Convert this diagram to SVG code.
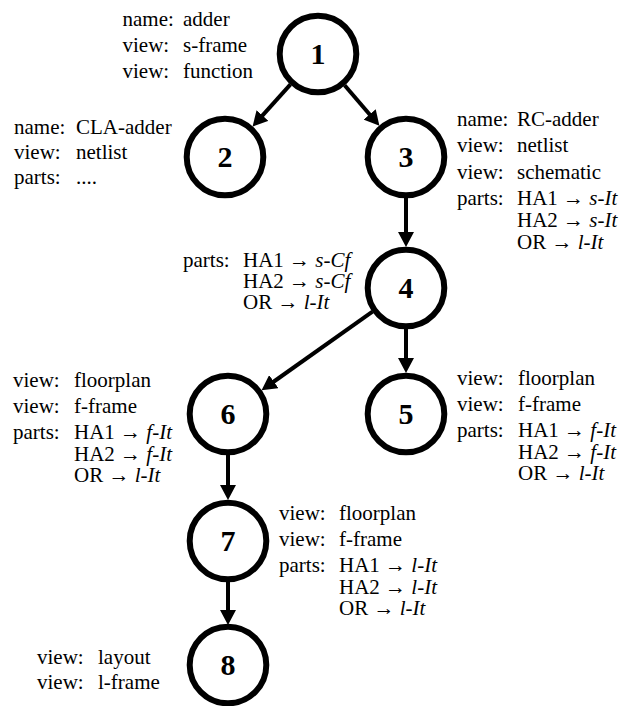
<svg xmlns="http://www.w3.org/2000/svg" width="628" height="706" viewBox="0 0 628 706">
<style>
.t { font-family: "Liberation Serif", "Times New Roman", serif; font-size: 21px; fill: #000; }
.i { font-style: italic; }
.n { font-family: "Liberation Serif", "Times New Roman", serif; font-size: 30px; font-weight: bold; text-anchor: middle; fill: #000; }
.c { fill: #fff; stroke: #000; stroke-width: 6; }
.e { stroke: #000; stroke-width: 4; fill: none; marker-end: url(#ah); }
</style>
<defs>
<marker id="ah" markerUnits="userSpaceOnUse" viewBox="0 0 16 16" markerWidth="16" markerHeight="16" refX="5" refY="8" orient="auto">
<path d="M0,0 L15,8 L0,16 z" fill="#000"/>
</marker>
</defs>
<g id="connectors">
<line class="e" x1="290.5" y1="84.4" x2="259.2" y2="119.2"/>
<line class="e" x1="344.6" y1="85.2" x2="372.9" y2="118.2"/>
<line class="e" x1="406" y1="198" x2="406" y2="237"/>
<line class="e" x1="372.5" y1="311.7" x2="269.7" y2="384.5"/>
<line class="e" x1="406" y1="329" x2="406" y2="363"/>
<line class="e" x1="228" y1="455" x2="228" y2="490"/>
<line class="e" x1="228" y1="582" x2="228" y2="615"/>
</g>
<g id="node1">
<circle class="c" cx="318" cy="54" r="38.3"/>
<text class="n" x="318" y="64">1</text>
<text class="t" x="122.5" y="26">name:</text><text class="t" x="183" y="26">adder</text>
<text class="t" x="122.5" y="52">view:</text><text class="t" x="183" y="52">s-frame</text>
<text class="t" x="122.5" y="78">view:</text><text class="t" x="183" y="78">function</text>
</g>
<g id="node2">
<circle class="c" cx="225" cy="157" r="38.3"/>
<text class="n" x="225" y="167">2</text>
<text class="t" x="14" y="134">name:</text><text class="t" x="76" y="134">CLA-adder</text>
<text class="t" x="14" y="159">view:</text><text class="t" x="76" y="159">netlist</text>
<text class="t" x="14" y="184">parts:</text><text class="t" x="76" y="184">....</text>
</g>
<g id="node3">
<circle class="c" cx="406" cy="157" r="38.3"/>
<text class="n" x="406" y="167">3</text>
<text class="t" x="457" y="125.5">name:</text><text class="t" x="517" y="125.5">RC-adder</text>
<text class="t" x="457" y="152">view:</text><text class="t" x="517" y="152">netlist</text>
<text class="t" x="457" y="178.5">view:</text><text class="t" x="517" y="178.5">schematic</text>
<text class="t" x="457" y="205">parts:</text><text class="t" x="517" y="205">HA1 → <tspan class="i">s-It</tspan></text>
<text class="t" x="517" y="227">HA2 → <tspan class="i">s-It</tspan></text>
<text class="t" x="517" y="249">OR → <tspan class="i">l-It</tspan></text>
</g>
<g id="node4">
<circle class="c" cx="406" cy="288" r="38.3"/>
<text class="n" x="406" y="298">4</text>
<text class="t" x="183" y="267">parts:</text><text class="t" x="243" y="267">HA1 → <tspan class="i">s-Cf</tspan></text>
<text class="t" x="243" y="288">HA2 → <tspan class="i">s-Cf</tspan></text>
<text class="t" x="243" y="309">OR → <tspan class="i">l-It</tspan></text>
</g>
<g id="node6">
<circle class="c" cx="228" cy="414" r="38.3"/>
<text class="n" x="228" y="424">6</text>
<text class="t" x="13" y="387">view:</text><text class="t" x="74" y="387">floorplan</text>
<text class="t" x="13" y="413">view:</text><text class="t" x="74" y="413">f-frame</text>
<text class="t" x="13" y="439">parts:</text><text class="t" x="74" y="439">HA1 → <tspan class="i">f-It</tspan></text>
<text class="t" x="74" y="460.5">HA2 → <tspan class="i">f-It</tspan></text>
<text class="t" x="74" y="482">OR → <tspan class="i">l-It</tspan></text>
</g>
<g id="node5">
<circle class="c" cx="406" cy="414" r="38.3"/>
<text class="n" x="406" y="424">5</text>
<text class="t" x="457" y="385">view:</text><text class="t" x="518" y="385">floorplan</text>
<text class="t" x="457" y="411">view:</text><text class="t" x="518" y="411">f-frame</text>
<text class="t" x="457" y="437">parts:</text><text class="t" x="518" y="437">HA1 → <tspan class="i">f-It</tspan></text>
<text class="t" x="518" y="458.5">HA2 → <tspan class="i">f-It</tspan></text>
<text class="t" x="518" y="480">OR → <tspan class="i">l-It</tspan></text>
</g>
<g id="node7">
<circle class="c" cx="228" cy="541" r="38.3"/>
<text class="n" x="228" y="551">7</text>
<text class="t" x="279" y="520">view:</text><text class="t" x="339" y="520">floorplan</text>
<text class="t" x="279" y="546">view:</text><text class="t" x="339" y="546">f-frame</text>
<text class="t" x="279" y="572">parts:</text><text class="t" x="339" y="572">HA1 → <tspan class="i">l-It</tspan></text>
<text class="t" x="339" y="593.5">HA2 → <tspan class="i">l-It</tspan></text>
<text class="t" x="339" y="615">OR → <tspan class="i">l-It</tspan></text>
</g>
<g id="node8">
<circle class="c" cx="228" cy="665" r="38.3"/>
<text class="n" x="228" y="675">8</text>
<text class="t" x="37" y="664">view:</text><text class="t" x="98" y="664">layout</text>
<text class="t" x="37" y="689">view:</text><text class="t" x="98" y="689">l-frame</text>
</g>
</svg>
